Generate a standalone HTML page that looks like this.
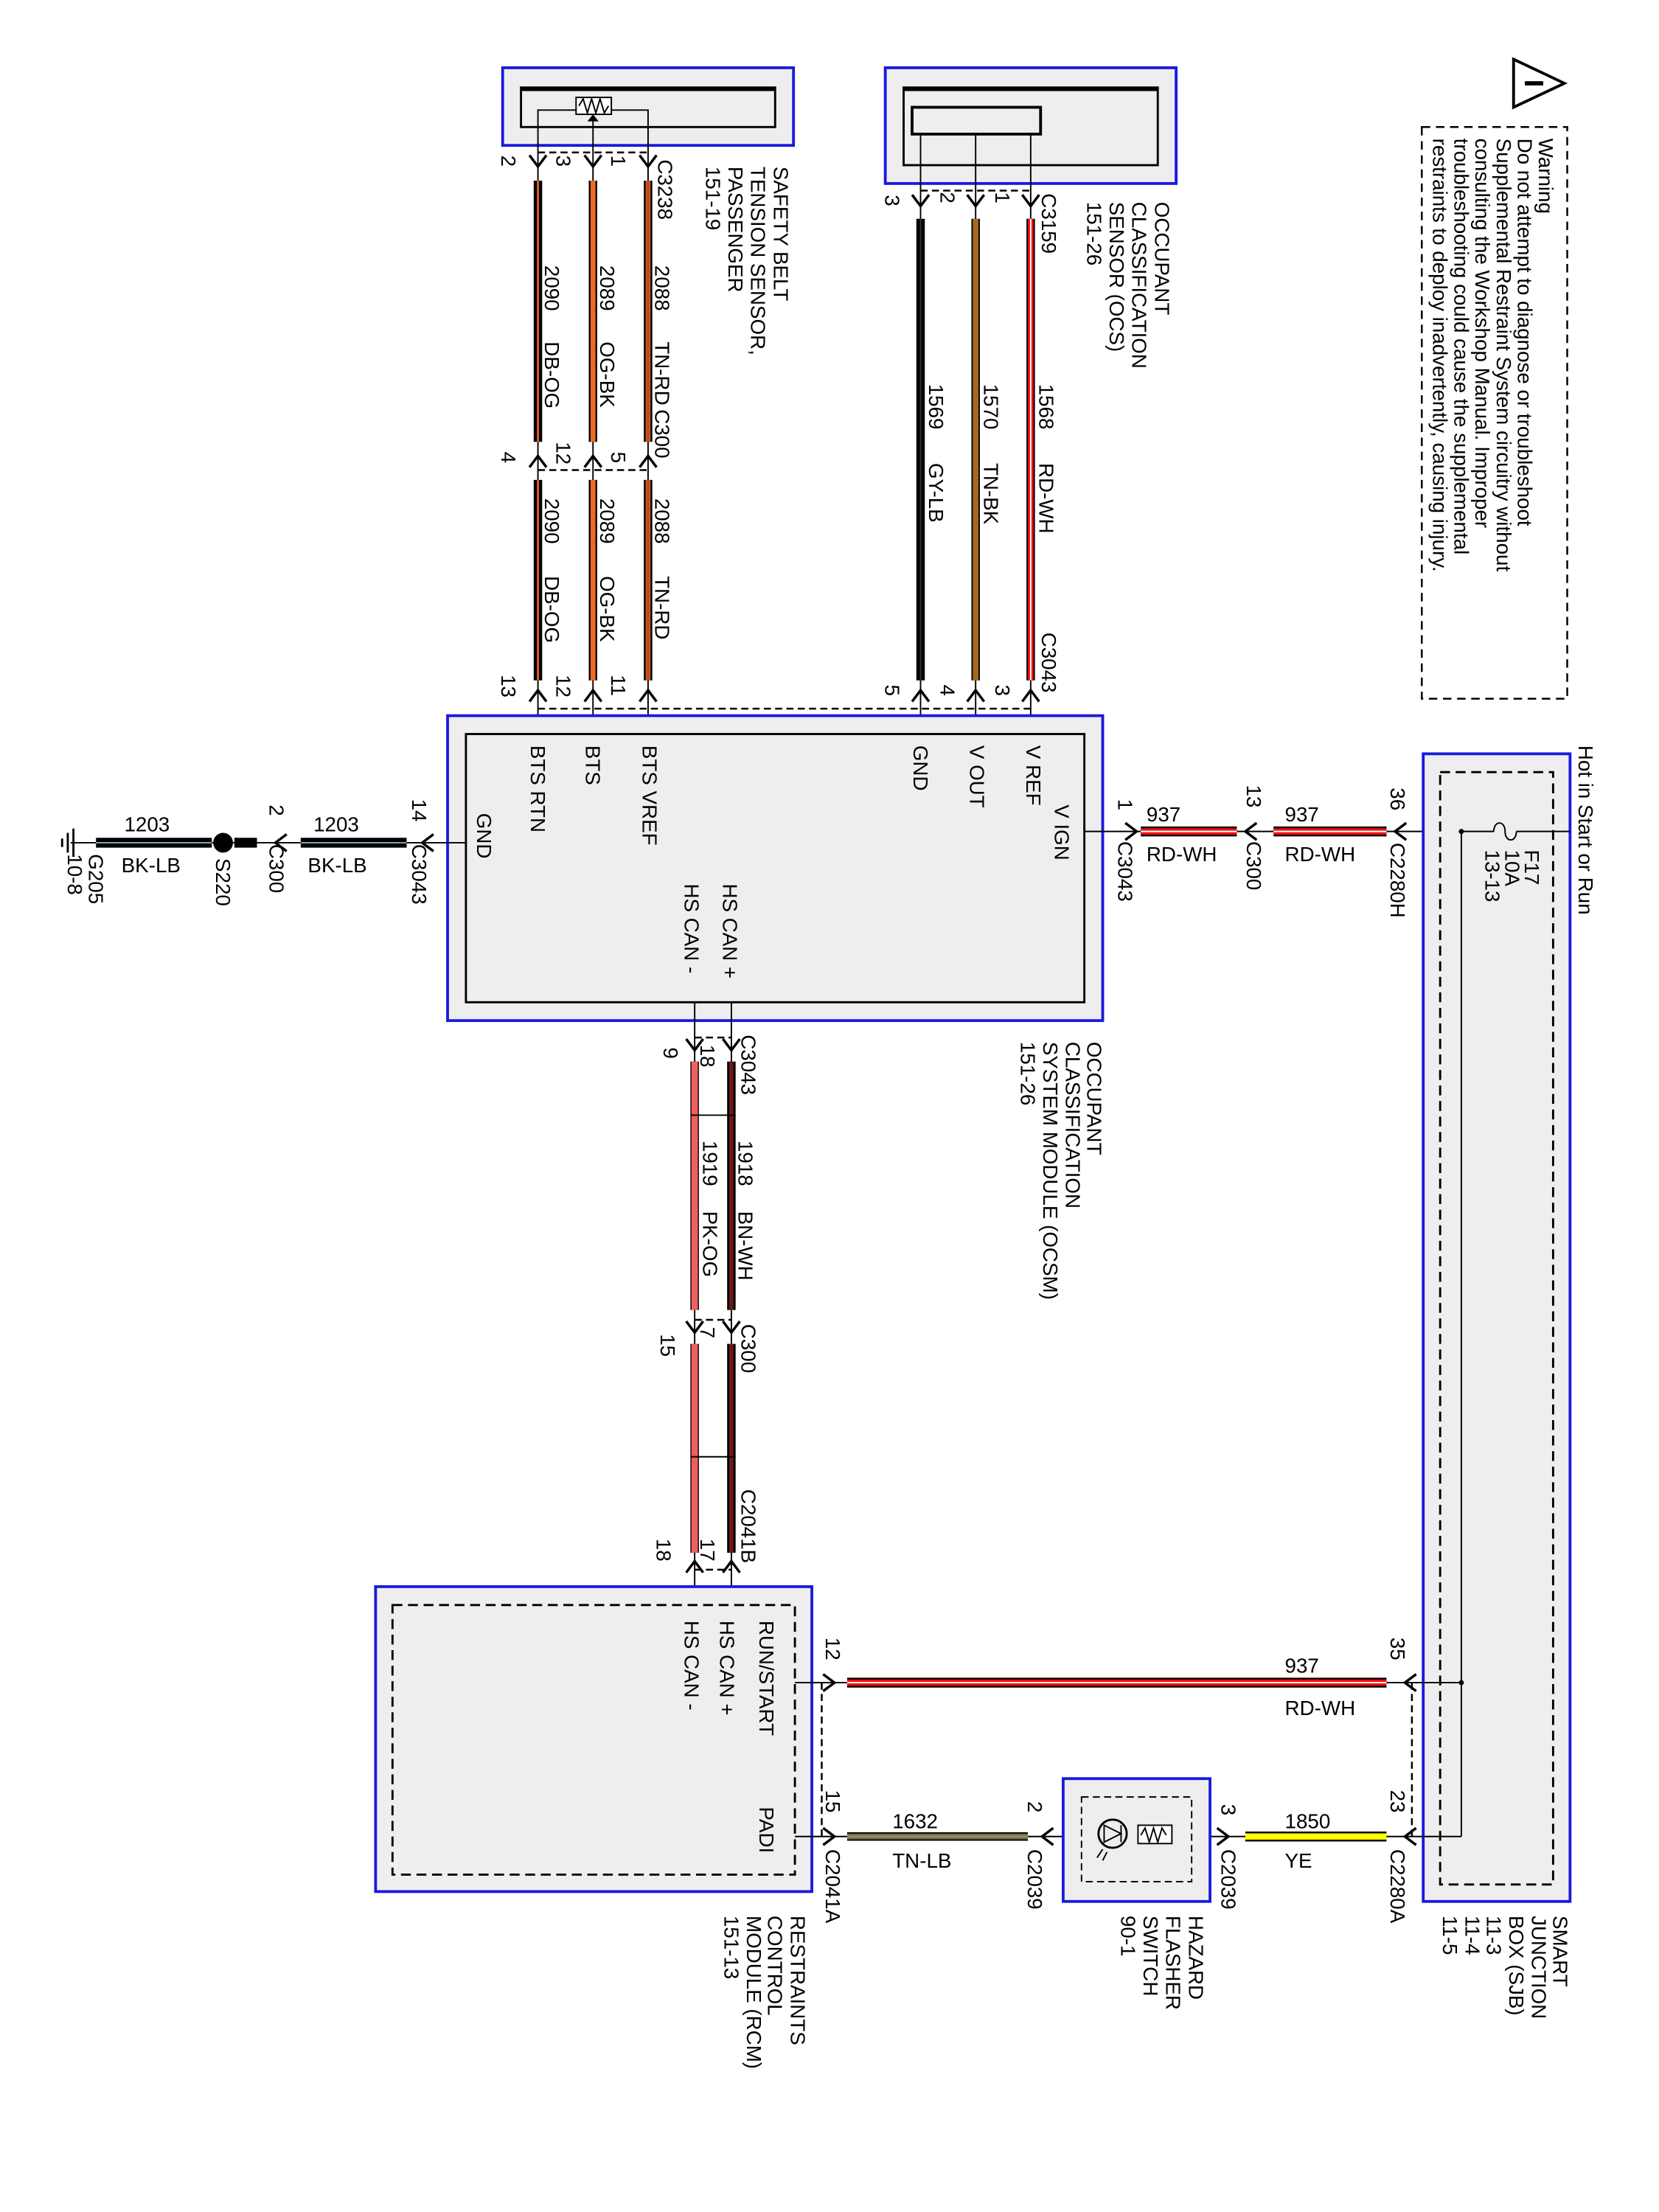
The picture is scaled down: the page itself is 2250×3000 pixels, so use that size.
<!DOCTYPE html>
<html><head><meta charset="utf-8"><style>
html,body{margin:0;padding:0;background:#fff}
svg{display:block}
text{font-family:"Liberation Sans",sans-serif;font-size:14.5px;fill:#000}
.b{fill:#eee;stroke:#1a1adc;stroke-width:2}
.k{fill:none;stroke:#000;stroke-width:1.5}
.d{fill:none;stroke:#000;stroke-width:1.3;stroke-dasharray:5,3}
.w{fill:none;stroke:#000;stroke-width:1}
.ar{fill:none;stroke:#000;stroke-width:1.8}
</style></head><body>
<svg width="2250" height="3000" viewBox="0 0 1175 1567" preserveAspectRatio="none" xmlns="http://www.w3.org/2000/svg">
<rect width="1175" height="1567" fill="#fff"/>

<!-- Safety belt sensor -->
<rect class="b" x="356" y="48" width="206" height="55"/>
<rect x="369" y="62" width="180" height="28" fill="none" stroke="#000" stroke-width="1.5"/>
<line x1="369" y1="63" x2="549" y2="63" stroke="#000" stroke-width="3"/>
<rect x="408" y="69" width="25" height="12" fill="#fff" stroke="#000"/>
<path class="w" d="M410 75 l3 -5 l3 10 l3 -10 l3 10 l3 -10 l3 10 l3 -5"/>
<path class="w" d="M381 128 V78 H408 M459 128 V78 H433 M420 128 V82"/>
<path d="M416 86 l4 -5 l4 5z" fill="#000"/>
<!-- OCS -->
<rect class="b" x="627" y="48" width="206" height="82"/>
<rect x="640" y="62" width="180" height="55" fill="none" stroke="#000" stroke-width="1.5"/>
<line x1="640" y1="63" x2="820" y2="63" stroke="#000" stroke-width="3"/>
<rect x="646" y="76" width="91" height="19" fill="none" stroke="#000" stroke-width="2"/>
<path class="w" d="M652 95 V155 M691 95 V155 M730 95 V155"/>

<!-- dashed connector outlines -->
<path class="d" d="M381 108 H459 M381 333 H459 M652 135 H730 M381 502 H730 M492 735 H518 M492 935 H518 M492 1112 H518 M582 1192 V1301 M1000 1192 V1301"/>

<!-- Belt wires -->
<g>
<line x1="381" y1="128" x2="381" y2="313" stroke="#000" stroke-width="6"/><line x1="381" y1="128" x2="381" y2="313" stroke="#e06020" stroke-width="1.5"/>
<line x1="420" y1="128" x2="420" y2="313" stroke="#000" stroke-width="6"/><line x1="420" y1="128" x2="420" y2="313" stroke="#f06a20" stroke-width="3.5"/>
<line x1="459" y1="128" x2="459" y2="313" stroke="#000" stroke-width="6"/><line x1="459" y1="128" x2="459" y2="313" stroke="#b8602a" stroke-width="3.5"/><line x1="459" y1="128" x2="459" y2="313" stroke="#e03010" stroke-width="1"/>
<line x1="381" y1="340" x2="381" y2="482" stroke="#000" stroke-width="6"/><line x1="381" y1="340" x2="381" y2="482" stroke="#e06020" stroke-width="1.5"/>
<line x1="420" y1="340" x2="420" y2="482" stroke="#000" stroke-width="6"/><line x1="420" y1="340" x2="420" y2="482" stroke="#f06a20" stroke-width="3.5"/>
<line x1="459" y1="340" x2="459" y2="482" stroke="#000" stroke-width="6"/><line x1="459" y1="340" x2="459" y2="482" stroke="#b8602a" stroke-width="3.5"/><line x1="459" y1="340" x2="459" y2="482" stroke="#e03010" stroke-width="1"/>
<path class="w" d="M381 313 V340 M420 313 V340 M459 313 V340 M381 482 V520 M420 482 V520 M459 482 V520"/>
</g>
<!-- OCS wires -->
<line x1="652" y1="155" x2="652" y2="482" stroke="#000" stroke-width="6"/><line x1="652" y1="155" x2="652" y2="482" stroke="#333" stroke-width="1"/>
<line x1="691" y1="155" x2="691" y2="482" stroke="#000" stroke-width="6"/><line x1="691" y1="155" x2="691" y2="482" stroke="#a8671e" stroke-width="4"/>
<line x1="730" y1="155" x2="730" y2="482" stroke="#000" stroke-width="6"/><line x1="730" y1="155" x2="730" y2="482" stroke="#f01010" stroke-width="4"/><line x1="730" y1="155" x2="730" y2="482" stroke="#fff" stroke-width="1"/>
<path class="w" d="M652 482 V520 M691 482 V520 M730 482 V520"/>

<!-- down chevrons on vertical wires -->
<g class="ar">
<path d="M375 110 l6 8 l6 -8 M414 110 l6 8 l6 -8 M453 110 l6 8 l6 -8"/>
<path d="M375 331 l6 -8 l6 8 M414 331 l6 -8 l6 8 M453 331 l6 -8 l6 8"/>
<path d="M375 497 l6 -8 l6 8 M414 497 l6 -8 l6 8 M453 497 l6 -8 l6 8"/>
<path d="M646 138 l6 8 l6 -8 M685 138 l6 8 l6 -8 M724 138 l6 8 l6 -8"/>
<path d="M646 497 l6 -8 l6 8 M685 497 l6 -8 l6 8 M724 497 l6 -8 l6 8"/>
<path d="M486 736 l6 8 l6 -8 M512 736 l6 8 l6 -8"/>
<path d="M486 936 l6 8 l6 -8 M512 936 l6 8 l6 -8"/>
<path d="M486 1114 l6 -8 l6 8 M512 1114 l6 -8 l6 8"/>
</g>

<!-- OCSM -->
<rect class="b" x="317" y="507" width="464" height="216"/>
<rect x="330" y="520" width="438" height="190" fill="none" stroke="#000" stroke-width="1.5"/>

<!-- V IGN wire -->
<path class="w" d="M768 589 H1035 M330 597 H50"/>
<line x1="808" y1="589" x2="876" y2="589" stroke="#000" stroke-width="7"/><line x1="808" y1="589" x2="876" y2="589" stroke="#f01010" stroke-width="4.5"/><line x1="808" y1="589" x2="876" y2="589" stroke="#fff" stroke-width="1"/>
<line x1="902" y1="589" x2="982" y2="589" stroke="#000" stroke-width="7"/><line x1="902" y1="589" x2="982" y2="589" stroke="#f01010" stroke-width="4.5"/><line x1="902" y1="589" x2="982" y2="589" stroke="#fff" stroke-width="1"/>
<g class="ar">
<path d="M797 583 l8 6 l-8 6 M890 583 l-8 6 l8 6 M996 583 l-8 6 l8 6"/>
<path d="M307 591 l-8 6 l8 6 M203 591 l-8 6 l8 6"/>
</g>
<!-- GND wire -->
<line x1="213" y1="597" x2="288" y2="597" stroke="#000" stroke-width="7"/><line x1="213" y1="597" x2="288" y2="597" stroke="#8ab" stroke-width="1"/>
<line x1="68" y1="597" x2="150" y2="597" stroke="#000" stroke-width="7"/><line x1="68" y1="597" x2="150" y2="597" stroke="#8ab" stroke-width="1"/>
<line x1="166" y1="597" x2="182" y2="597" stroke="#000" stroke-width="7"/>
<circle cx="158" cy="597" r="7" fill="#000"/>
<path class="k" d="M52 587 V607 M48 590 V604 M44 594 V600"/>

<!-- SJB -->
<rect class="b" x="1008" y="534" width="104" height="813"/>
<rect x="1020" y="547" width="80" height="788" fill="none" stroke="#000" stroke-width="1.5" stroke-dasharray="7,4"/>
<path class="w" d="M1035 589 V1301 M1035 589 H1058 M1074 589 H1112"/>
<path class="w" d="M1058 589 c0 -8 8 -8 8 0 c0 8 8 8 8 0"/>
<circle cx="1035" cy="589" r="1.8"/><circle cx="1035" cy="1192" r="1.8"/>

<!-- CAN wires -->
<line x1="492" y1="752" x2="492" y2="928" stroke="#000" stroke-width="6"/><line x1="492" y1="752" x2="492" y2="928" stroke="#f06060" stroke-width="4.5"/>
<line x1="518" y1="752" x2="518" y2="928" stroke="#000" stroke-width="6"/><line x1="518" y1="752" x2="518" y2="928" stroke="#6a1818" stroke-width="3"/>
<line x1="492" y1="952" x2="492" y2="1100" stroke="#000" stroke-width="6"/><line x1="492" y1="952" x2="492" y2="1100" stroke="#f06060" stroke-width="4.5"/>
<line x1="518" y1="952" x2="518" y2="1100" stroke="#000" stroke-width="6"/><line x1="518" y1="952" x2="518" y2="1100" stroke="#6a1818" stroke-width="3"/>
<path class="w" d="M492 710 V752 M518 710 V752 M492 928 V952 M518 928 V952 M492 1100 V1137 M518 1100 V1137 M489 790 H521 M489 1032 H521"/>

<!-- RCM -->
<rect class="b" x="266" y="1124" width="309" height="216"/>
<rect x="278" y="1137" width="285" height="191" fill="none" stroke="#000" stroke-width="1.5" stroke-dasharray="7,4"/>
<path class="w" d="M563 1192 H1035 M563 1301 H1035"/>
<line x1="600" y1="1192" x2="982" y2="1192" stroke="#000" stroke-width="7"/><line x1="600" y1="1192" x2="982" y2="1192" stroke="#f01010" stroke-width="4.5"/><line x1="600" y1="1192" x2="982" y2="1192" stroke="#fff" stroke-width="1"/>
<line x1="600" y1="1301" x2="728" y2="1301" stroke="#000" stroke-width="6"/><line x1="600" y1="1301" x2="728" y2="1301" stroke="#8a6a30" stroke-width="4"/><line x1="600" y1="1301" x2="728" y2="1301" stroke="#6ab" stroke-width="1"/>
<line x1="882" y1="1301" x2="982" y2="1301" stroke="#000" stroke-width="7"/><line x1="882" y1="1301" x2="982" y2="1301" stroke="#ffff00" stroke-width="4.5"/>
<g class="ar">
<path d="M583 1186 l8 6 l-8 6 M1003 1186 l-8 6 l8 6"/>
<path d="M583 1295 l8 6 l-8 6 M746 1295 l-8 6 l8 6 M862 1295 l8 6 l-8 6 M1003 1295 l-8 6 l8 6"/>
</g>
<!-- Hazard -->
<rect class="b" x="753" y="1260" width="104" height="87"/>
<rect x="766" y="1273" width="78" height="60" fill="none" stroke="#000" stroke-dasharray="5,3"/>
<circle cx="788" cy="1299" r="10" fill="none" stroke="#000" stroke-width="1.5"/>
<path class="w" d="M782 1293 l12 6 l-12 6z M794 1293 V1305 M781 1310 l-4 6 M784 1312 l-3 6"/>
<rect x="806" y="1293" width="24" height="13" fill="#fff" stroke="#000"/>
<path class="w" d="M808 1300 l3 -5 l3 10 l3 -10 l3 10 l3 -10 l3 5"/>

<!-- Warning -->
<path d="M1072 42 L1108 59 L1072 76 Z" fill="none" stroke="#000" stroke-width="2"/>
<line x1="1080" y1="59" x2="1093" y2="59" stroke="#000" stroke-width="3"/>
<rect x="1007" y="90" width="103" height="405" fill="none" stroke="#000" stroke-width="1.3" stroke-dasharray="6,4"/>

<!-- rotated texts -->
<g>
<text transform="translate(548,118) rotate(90)">SAFETY BELT</text>
<text transform="translate(532,118) rotate(90)">TENSION SENSOR,</text>
<text transform="translate(516,118) rotate(90)">PASSENGER</text>
<text transform="translate(500,118) rotate(90)">151-19</text>
<text transform="translate(466,113) rotate(90)">C3238</text>
<text transform="translate(433,110) rotate(90)">1</text>
<text transform="translate(394,110) rotate(90)">3</text>
<text transform="translate(355,110) rotate(90)">2</text>
<text transform="translate(464,188) rotate(90)">2088</text>
<text transform="translate(464,242) rotate(90)">TN-RD</text>
<text transform="translate(464,290) rotate(90)">C300</text>
<text transform="translate(425,188) rotate(90)">2089</text>
<text transform="translate(425,242) rotate(90)">OG-BK</text>
<text transform="translate(386,188) rotate(90)">2090</text>
<text transform="translate(386,242) rotate(90)">DB-OG</text>
<text transform="translate(433,320) rotate(90)">5</text>
<text transform="translate(394,313) rotate(90)">12</text>
<text transform="translate(355,320) rotate(90)">4</text>
<text transform="translate(464,353) rotate(90)">2088</text>
<text transform="translate(464,408) rotate(90)">TN-RD</text>
<text transform="translate(425,353) rotate(90)">2089</text>
<text transform="translate(425,408) rotate(90)">OG-BK</text>
<text transform="translate(386,353) rotate(90)">2090</text>
<text transform="translate(386,408) rotate(90)">DB-OG</text>
<text transform="translate(433,478) rotate(90)">11</text>
<text transform="translate(394,478) rotate(90)">12</text>
<text transform="translate(355,478) rotate(90)">13</text>

<text transform="translate(818,143) rotate(90)">OCCUPANT</text>
<text transform="translate(802,143) rotate(90)">CLASSIFICATION</text>
<text transform="translate(786,143) rotate(90)">SENSOR (OCS)</text>
<text transform="translate(770,143) rotate(90)">151-26</text>
<text transform="translate(738,137) rotate(90)">C3159</text>
<text transform="translate(705,136) rotate(90)">1</text>
<text transform="translate(666,136) rotate(90)">2</text>
<text transform="translate(627,138) rotate(90)">3</text>
<text transform="translate(736,272) rotate(90)">1568</text>
<text transform="translate(736,328) rotate(90)">RD-WH</text>
<text transform="translate(697,272) rotate(90)">1570</text>
<text transform="translate(697,328) rotate(90)">TN-BK</text>
<text transform="translate(658,272) rotate(90)">1569</text>
<text transform="translate(658,328) rotate(90)">GY-LB</text>
<text transform="translate(738,448) rotate(90)">C3043</text>
<text transform="translate(705,485) rotate(90)">3</text>
<text transform="translate(666,485) rotate(90)">4</text>
<text transform="translate(627,485) rotate(90)">5</text>

<text transform="translate(727,528) rotate(90)">V REF</text>
<text transform="translate(687,528) rotate(90)">V OUT</text>
<text transform="translate(647,528) rotate(90)">GND</text>
<text transform="translate(455,528) rotate(90)">BTS VREF</text>
<text transform="translate(415,528) rotate(90)">BTS</text>
<text transform="translate(376,528) rotate(90)">BTS RTN</text>
<text transform="translate(747,570) rotate(90)">V IGN</text>
<text transform="translate(338,576) rotate(90)">GND</text>
<text transform="translate(512,626) rotate(90)">HS CAN +</text>
<text transform="translate(485,626) rotate(90)">HS CAN -</text>
<text transform="translate(770,738) rotate(90)">OCCUPANT</text>
<text transform="translate(755,738) rotate(90)">CLASSIFICATION</text>
<text transform="translate(739,738) rotate(90)">SYSTEM MODULE (OCSM)</text>
<text transform="translate(723,738) rotate(90)">151-26</text>

<text transform="translate(792,566) rotate(90)">1</text>
<text transform="translate(792,596) rotate(90)">C3043</text>
<text transform="translate(883,556) rotate(90)">13</text>
<text transform="translate(883,596) rotate(90)">C300</text>
<text transform="translate(985,558) rotate(90)">36</text>
<text transform="translate(985,597) rotate(90)">C2280H</text>
<text transform="translate(1080,602) rotate(90)">F17</text>
<text transform="translate(1066,602) rotate(90)">10A</text>
<text transform="translate(1052,602) rotate(90)">13-13</text>
<text transform="translate(1118,528) rotate(90)">Hot in Start or Run</text>

<text transform="translate(292,566) rotate(90)">14</text>
<text transform="translate(292,598) rotate(90)">C3043</text>
<text transform="translate(191,570) rotate(90)">2</text>
<text transform="translate(191,598) rotate(90)">C300</text>
<text transform="translate(153,608) rotate(90)">S220</text>
<text transform="translate(63,605) rotate(90)">G205</text>
<text transform="translate(48,605) rotate(90)">10-8</text>

<text transform="translate(1090,98) rotate(90)">Warning</text>
<text transform="translate(1075,98) rotate(90)">Do not attempt to diagnose or troubleshoot</text>
<text transform="translate(1060,98) rotate(90)">Supplemental Restraint System circuitry without</text>
<text transform="translate(1045,98) rotate(90)">consulting the Workshop Manual. Improper</text>
<text transform="translate(1030,98) rotate(90)">troubleshooting could cause the supplemental</text>
<text transform="translate(1015,98) rotate(90)">restraints to deploy inadvertently, causing injury.</text>

<text transform="translate(525,733) rotate(90)">C3043</text>
<text transform="translate(470,742) rotate(90)">9</text>
<text transform="translate(496,740) rotate(90)">18</text>
<text transform="translate(523,808) rotate(90)">1918</text>
<text transform="translate(523,858) rotate(90)">BN-WH</text>
<text transform="translate(498,808) rotate(90)">1919</text>
<text transform="translate(498,858) rotate(90)">PK-OG</text>
<text transform="translate(525,938) rotate(90)">C300</text>
<text transform="translate(468,945) rotate(90)">15</text>
<text transform="translate(496,940) rotate(90)">7</text>
<text transform="translate(525,1055) rotate(90)">C2041B</text>
<text transform="translate(465,1090) rotate(90)">18</text>
<text transform="translate(496,1090) rotate(90)">17</text>

<text transform="translate(538,1148) rotate(90)">RUN/START</text>
<text transform="translate(510,1148) rotate(90)">HS CAN +</text>
<text transform="translate(485,1148) rotate(90)">HS CAN -</text>
<text transform="translate(538,1280) rotate(90)">PADI</text>
<text transform="translate(560,1357) rotate(90)">RESTRAINTS</text>
<text transform="translate(544,1357) rotate(90)">CONTROL</text>
<text transform="translate(529,1357) rotate(90)">MODULE (RCM)</text>
<text transform="translate(513,1357) rotate(90)">151-13</text>
<text transform="translate(585,1160) rotate(90)">12</text>
<text transform="translate(985,1160) rotate(90)">35</text>
<text transform="translate(585,1268) rotate(90)">15</text>
<text transform="translate(585,1310) rotate(90)">C2041A</text>
<text transform="translate(728,1276) rotate(90)">2</text>
<text transform="translate(728,1310) rotate(90)">C2039</text>
<text transform="translate(865,1278) rotate(90)">3</text>
<text transform="translate(865,1310) rotate(90)">C2039</text>
<text transform="translate(985,1268) rotate(90)">23</text>
<text transform="translate(985,1310) rotate(90)">C2280A</text>
<text transform="translate(842,1357) rotate(90)">HAZARD</text>
<text transform="translate(826,1357) rotate(90)">FLASHER</text>
<text transform="translate(810,1357) rotate(90)">SWITCH</text>
<text transform="translate(794,1357) rotate(90)">90-1</text>
<text transform="translate(1100,1357) rotate(90)">SMART</text>
<text transform="translate(1085,1357) rotate(90)">JUNCTION</text>
<text transform="translate(1069,1357) rotate(90)">BOX (SJB)</text>
<text transform="translate(1053,1357) rotate(90)">11-3</text>
<text transform="translate(1038,1357) rotate(90)">11-4</text>
<text transform="translate(1022,1357) rotate(90)">11-5</text>
</g>

<!-- horizontal texts -->
<text x="812" y="582">937</text><text x="812" y="610">RD-WH</text>
<text x="910" y="582">937</text><text x="910" y="610">RD-WH</text>
<text x="222" y="589">1203</text><text x="218" y="618">BK-LB</text>
<text x="88" y="589">1203</text><text x="86" y="618">BK-LB</text>
<text x="910" y="1185">937</text><text x="910" y="1215">RD-WH</text>
<text x="632" y="1295">1632</text><text x="632" y="1323">TN-LB</text>
<text x="910" y="1295">1850</text><text x="910" y="1323">YE</text>
</svg>
</body></html>
